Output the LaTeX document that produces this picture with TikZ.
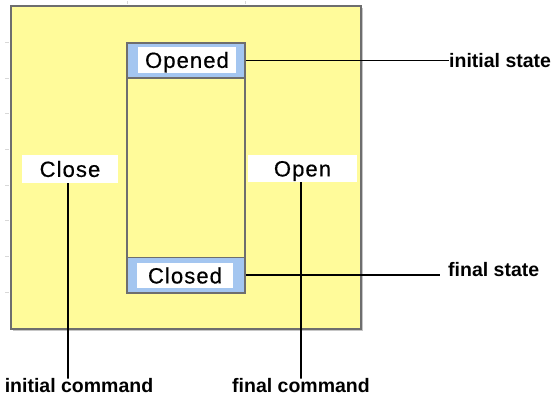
\documentclass[tikz,border=0pt]{standalone}
\usepackage{fontspec}
\setmainfont{Liberation Sans}
\newfontfamily\boxfont[LetterSpace=5,FakeBold=0.6]{Liberation Sans}
\definecolor{paleyellow}{HTML}{FFFB9A}
\definecolor{hdrblue}{HTML}{A4C6F0}
\definecolor{frame}{HTML}{6E6E6E}
\definecolor{tick}{HTML}{D8D8D8}
\begin{document}
\begin{tikzpicture}[x=1pt,y=-1pt,
  panel/.style={draw=frame,line width=2pt,fill=paleyellow},
  band/.style={draw=frame,line width=1.6pt,fill=hdrblue,minimum width=118pt,minimum height=35pt,inner sep=0pt},
  whitebox/.style={fill=white,inner sep=0pt,text height=15.8pt,text depth=0pt,font=\boxfont\fontsize{22}{22}\selectfont},
  callout/.style={font=\bfseries\fontsize{19.5}{20}\selectfont,inner sep=0pt},
  leader/.style={draw=black,line width=1.2pt}]
\useasboundingbox (0,0) rectangle (552,397);
% faint ruler ticks
\foreach \yy in {42,78,113,149,185,220,256,292}
  \draw[tick,line width=0.8pt] (5,\yy) -- (9,\yy);
\foreach \xx in {127,245}
  \draw[tick,line width=0.8pt] (\xx,1) -- (\xx,4);
% outer panel with shadow
\fill[gray!45] (13,8) rectangle (363,331);
\node[panel,minimum width=350pt,minimum height=323pt,inner sep=0pt] (outer) at (186,167.5) {};
% inner state column
\node[panel,minimum width=118pt,minimum height=250pt,inner sep=0pt] (column) at (186,168) {};
\node[band] (hdrtop) at (186,60.5) {};
\node[band] (hdrbot) at (186,275) {};
\node[whitebox,minimum width=98pt,minimum height=26pt] (opened) at (187,60) {Opened};
\node[whitebox,minimum width=96pt,minimum height=25pt] (closed) at (185,275.5) {Closed};
% commands
\node[whitebox,minimum width=96pt,minimum height=28pt] (close) at (70,169) {Close};
\node[whitebox,minimum width=109pt,minimum height=27pt] (open) at (302.5,168.5) {Open};
% callouts
\node[callout,anchor=west] (initstate) at (449,60.5) {initial state};
\node[callout,anchor=west] (finalstate) at (448,270) {final state};
\node[callout] (initcmd) at (79,386) {initial command};
\node[callout] (finalcmd) at (301,386) {final command};
% leaders
\draw[leader] (hdrtop.east) -- (initstate.west);
\draw[leader] (hdrbot.east) -- ([xshift=-8pt]finalstate.west |- hdrbot.east);
\draw[leader] ([xshift=-2pt]close.south) -- ([xshift=-2pt]close.south |- initcmd.north) -- ++(0,-4);
\draw[leader] ([xshift=-1.5pt]open.south) -- ([xshift=-1.5pt]open.south |- finalcmd.north) -- ++(0,-4);
\end{tikzpicture}
\end{document}
